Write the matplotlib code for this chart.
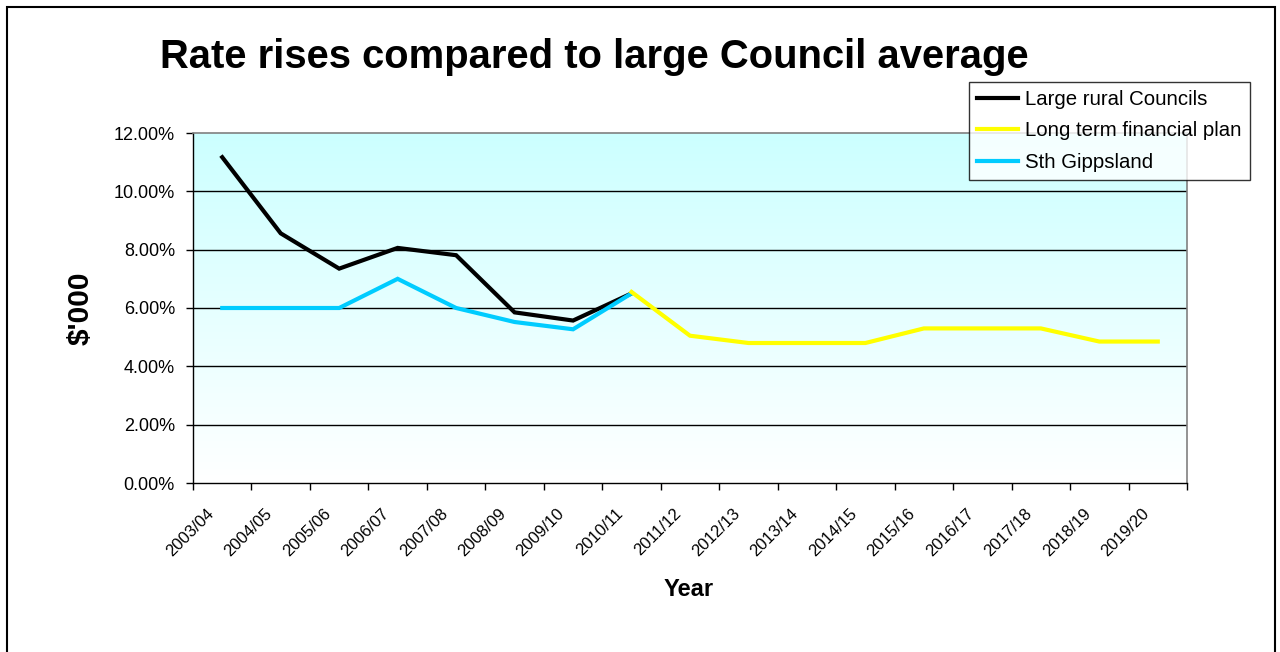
import numpy as np
import matplotlib
matplotlib.use("Agg")
import matplotlib.pyplot as plt
import matplotlib.transforms as mtrans
from matplotlib.patches import Rectangle
from matplotlib.colors import LinearSegmentedColormap

plt.rcParams['font.family'] = ['Liberation Sans', 'DejaVu Sans']

years = ["2003/04", "2004/05", "2005/06", "2006/07", "2007/08", "2008/09",
         "2009/10", "2010/11", "2011/12", "2012/13", "2013/14", "2014/15",
         "2015/16", "2016/17", "2017/18", "2018/19", "2019/20"]
nan = np.nan
large_rural = [11.17, 8.56, 7.35, 8.06, 7.81, 5.85, 5.57, 6.5,
               nan, nan, nan, nan, nan, nan, nan, nan, nan]
long_term = [nan, nan, nan, nan, nan, nan, nan, 6.55,
             5.05, 4.8, 4.8, 4.8, 5.3, 5.3, 5.3, 4.85, 4.85]
sth_gippsland = [6.0, 6.0, 6.0, 7.0, 6.0, 5.52, 5.27, 6.5,
                 nan, nan, nan, nan, nan, nan, nan, nan, nan]
y_ticks = [0, 2, 4, 6, 8, 10, 12]

W, H = 1280, 652
fig = plt.figure(figsize=(W / 100, H / 100), dpi=100)
ax = fig.add_axes([193 / W, 1 - 483 / H, (1187 - 193) / W, (483 - 133) / H])

x = np.arange(len(years))
ax.set_xlim(-0.5, len(years) - 0.5)
ax.set_ylim(0, 12)

# gradient background
cmap = LinearSegmentedColormap.from_list("bg", ["#FFFFFF", "#CCFFFF"])
grad = np.linspace(0, 1, 256).reshape(-1, 1)
ax.imshow(grad, extent=[-0.5, len(years) - 0.5, 0, 12], origin='lower',
          aspect='auto', cmap=cmap, zorder=0)

for yv in y_ticks[1:-1]:
    ax.axhline(yv, color='black', lw=1.0, zorder=1)

ax.plot(x, large_rural, color='black', lw=3.0, label='Large rural Councils', zorder=3,
        solid_joinstyle='miter')
ax.plot(x, long_term, color='#FFFF00', lw=3.0, label='Long term financial plan', zorder=4,
        solid_joinstyle='miter')
ax.plot(x, sth_gippsland, color='#00CCFF', lw=3.0, label='Sth Gippsland', zorder=3.5,
        solid_joinstyle='miter')

ax.set_yticks(y_ticks)
ax.set_yticklabels([f"{v:.2f}%" for v in y_ticks], fontsize=13)
ax.tick_params(axis='y', length=5, width=1, direction='out', pad=8)

ax.set_xticks(x)
ax.set_xticklabels(years, rotation=45, ha='right', va='center',
                   rotation_mode='anchor', fontsize=12)
ax.tick_params(axis='x', which='major', length=0, pad=20)
shift = mtrans.ScaledTranslation(-11 / 100, 0, fig.dpi_scale_trans)
for lab in ax.get_xticklabels():
    lab.set_transform(lab.get_transform() + shift)
ax.set_xticks(np.arange(-0.5, len(years)), minor=True)
ax.tick_params(axis='x', which='minor', length=5, width=1, direction='out')

for s in ['top', 'right']:
    ax.spines[s].set_color('#808080')
    ax.spines[s].set_linewidth(1.2)
for s in ['left', 'bottom']:
    ax.spines[s].set_color('black')
    ax.spines[s].set_linewidth(1.0)

fig.text(594 / W, 1 - 68.5 / H, "Rate rises compared to large Council average",
         ha='center', va='baseline', fontsize=28.8, fontweight='bold')
fig.text(81 / W, 1 - 308 / H, "$'000", rotation=90, ha='center', va='center',
         fontsize=21.5, fontweight='bold')
fig.text(689 / W, 1 - 590 / H, "Year", ha='center', va='center',
         fontsize=17, fontweight='bold')

leg = ax.legend(loc='upper left', bbox_to_anchor=(969 / W, 1 - 81.5 / H),
                bbox_transform=fig.transFigure, fontsize=14.7, frameon=True,
                fancybox=False, borderpad=0.4, handlelength=2.0,
                handletextpad=0.35, labelspacing=0.62, borderaxespad=0)
leg.get_frame().set_edgecolor('black')
leg.get_frame().set_linewidth(1.0)
leg.set_zorder(10)

fig.patches.append(Rectangle((7 / W, -0.05), (1275 - 7) / W, 1.05 - 7 / H,
                             transform=fig.transFigure, fill=False,
                             edgecolor='black', lw=1.5))

fig.savefig("out.png", dpi=100)
